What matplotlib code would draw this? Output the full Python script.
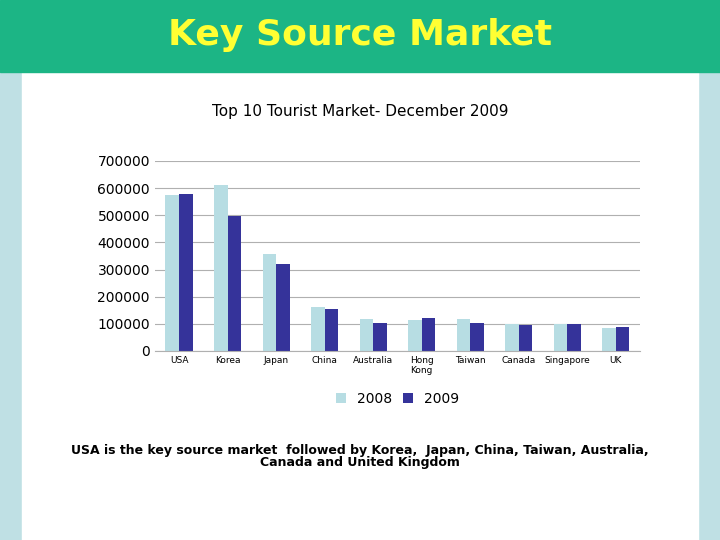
import matplotlib.pyplot as plt
import numpy as np
from matplotlib.patches import Rectangle

countries = ["USA", "Korea", "Japan", "China", "Australia", "Hong\nKong",
             "Taiwan", "Canada", "Singapore", "UK"]
arrivals_2008 = [575000, 612000, 358000, 162000, 118000, 115000, 118000, 100000, 100000, 86000]
arrivals_2009 = [580000, 498000, 321000, 155000, 103000, 122000, 103000, 97000, 100000, 90000]

fig = plt.figure(figsize=(7.2, 5.4), dpi=100)

# page decoration: side borders, header band
fig.patches.append(Rectangle((0, 0), 1, 1, transform=fig.transFigure, color="#bfe0e4", zorder=-3))
fig.patches.append(Rectangle((0.03, 0), 0.94, 1, transform=fig.transFigure, color="white", zorder=-2))
fig.patches.append(Rectangle((0, 0.867), 1, 0.133, transform=fig.transFigure, color="#1cb585", zorder=-1))
fig.text(0.5, 0.935, "Key Source Market", ha="center", va="center",
         fontsize=26, fontweight="bold", color="#ffff33")

fig.text(0.5, 0.793, "Top 10 Tourist Market- December 2009", ha="center", va="center", fontsize=11)

ax = fig.add_axes([0.215, 0.35, 0.674, 0.352])
x = np.arange(len(countries))
w = 0.28
ax.bar(x - w / 2, arrivals_2008, w, color="#b7dde3", label="2008", zorder=2)
ax.bar(x + w / 2, arrivals_2009, w, color="#35339a", label="2009", zorder=2)
ax.set_ylim(0, 700000)
ax.set_yticks(range(0, 700001, 100000))
ax.tick_params(axis="y", labelsize=10, length=0)
ax.set_xticks(x)
ax.set_xticklabels(countries, fontsize=6.5)
ax.tick_params(axis="x", length=0)
ax.set_xlim(-0.5, len(countries) - 0.5)
ax.grid(axis="y", color="#b0b0b0", linewidth=0.8, zorder=0)
for s in ["top", "right", "left"]:
    ax.spines[s].set_visible(False)
ax.spines["bottom"].set_color("#b0b0b0")
ax.legend(loc="upper center", bbox_to_anchor=(0.5, -0.15), ncol=2, frameon=False,
          fontsize=10, handlelength=0.7, handleheight=0.7, columnspacing=0.8)

fig.text(0.5, 0.155, "USA is the key source market  followed by Korea,  Japan, China, Taiwan, Australia,\n"
         "Canada and United Kingdom", ha="center", va="center", fontsize=9, fontweight="bold",
         linespacing=0.95)

fig.savefig("out.png", dpi=100)
